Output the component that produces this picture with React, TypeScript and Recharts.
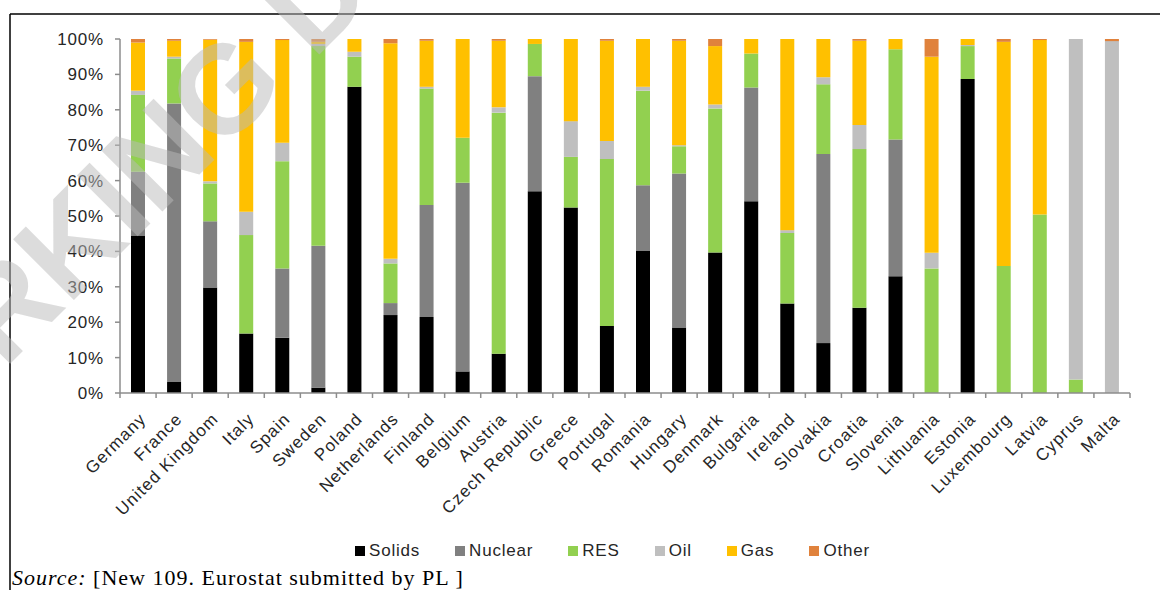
import { BarChart, Bar, XAxis, YAxis, Legend } from 'recharts';

const countries = [
  'Germany', 'France', 'United Kingdom', 'Italy', 'Spain', 'Sweden', 'Poland',
  'Netherlands', 'Finland', 'Belgium', 'Austria', 'Czech Republic', 'Greece',
  'Portugal', 'Romania', 'Hungary', 'Denmark', 'Bulgaria', 'Ireland', 'Slovakia',
  'Croatia', 'Slovenia', 'Lithuania', 'Estonia', 'Luxembourg', 'Latvia', 'Cyprus', 'Malta',
];

const solids = [44.5, 3.1, 29.8, 16.8, 15.6, 1.5, 86.5, 22.0, 21.5, 6.1, 11.1, 57.0, 52.4, 18.9, 40.1, 18.5, 39.7, 54.2, 25.3, 14.1, 24.1, 33.0, 0, 88.7, 0, 0, 0, 0];
const nuclear = [18.0, 78.7, 18.7, 0, 19.6, 40.1, 0, 3.4, 31.6, 53.3, 0, 32.5, 0, 0, 18.6, 43.5, 0, 32.1, 0, 53.4, 0, 38.6, 0, 0, 0, 0, 0, 0];
const res = [21.7, 12.7, 10.7, 27.8, 30.3, 56.4, 8.5, 11.2, 32.9, 12.7, 68.1, 9.1, 14.3, 47.2, 26.7, 7.7, 40.7, 9.6, 19.9, 19.7, 44.8, 25.5, 35.2, 9.3, 35.9, 50.4, 3.8, 0];
const oil = [1.2, 0.5, 0.6, 6.6, 5.2, 0.6, 1.4, 1.3, 0.5, 0, 1.5, 0, 10.1, 5.1, 1.1, 0.3, 1.1, 0, 0.8, 2.0, 6.8, 0, 4.4, 0.3, 0, 0, 96.2, 99.4];
const gas = [13.6, 4.5, 40.0, 48.0, 29.0, 0.6, 3.6, 60.9, 13.0, 27.9, 18.8, 1.4, 23.2, 28.3, 13.5, 29.5, 16.5, 4.1, 54.0, 10.8, 23.8, 2.9, 55.4, 1.7, 63.3, 49.3, 0, 0];
const other = [1.0, 0.5, 0.2, 0.8, 0.3, 0.8, 0, 1.2, 0.5, 0, 0.5, 0, 0, 0.5, 0, 0.5, 2.0, 0, 0, 0, 0.5, 0, 5.0, 0, 0.8, 0.3, 0, 0.6];

const yTicks = [0, 10, 20, 30, 40, 50, 60, 70, 80, 90, 100];

const series = [
  { key: 'solids', name: 'Solids', color: '#000000' },
  { key: 'nuclear', name: 'Nuclear', color: '#808080' },
  { key: 'res', name: 'RES', color: '#92D050' },
  { key: 'oil', name: 'Oil', color: '#BFBFBF' },
  { key: 'gas', name: 'Gas', color: '#FFC000' },
  { key: 'other', name: 'Other', color: '#E0823C' },
];

const data = countries.map((country, i) => ({
  country,
  solids: solids[i],
  nuclear: nuclear[i],
  res: res[i],
  oil: oil[i],
  gas: gas[i],
  other: other[i],
}));

const W = 1160;
const H = 590;
const PLOT_LEFT = 120;
const PLOT_RIGHT = 1130;
const STEP = (PLOT_RIGHT - PLOT_LEFT) / countries.length;
const SANS = '"Liberation Sans", Arial, sans-serif';
const SERIF = '"Liberation Serif", "Times New Roman", serif';
const AXIS = '#8c8c8c';
const TEXT = '#262626';

const CountryTick = (props: any) => {
  const { x, y, payload, index, visibleTicksCount } = props;
  const half = STEP / 2;
  return (
    <g>
      <line x1={x - half} x2={x - half} y1={y} y2={y + 5} stroke={AXIS} strokeWidth={1.5} />
      {index === visibleTicksCount - 1 && (
        <line x1={x + half} x2={x + half} y1={y} y2={y + 5} stroke={AXIS} strokeWidth={1.5} />
      )}
      <text
        transform={`translate(${x + 9},${y + 27}) rotate(-45)`}
        textAnchor="end"
        fontSize={17}
        letterSpacing={1.1}
        fill={TEXT}
        fontFamily={SANS}
      >
        {payload.value}
      </text>
    </g>
  );
};

// legend drawn in series order (recharts sorts its payload by name)
const LegendContent = () => (
  <div
    style={{
      display: 'flex',
      gap: 35,
      paddingLeft: 355,
      height: 20,
      alignItems: 'center',
      fontFamily: SANS,
      fontSize: 17,
      letterSpacing: 0.8,
      color: TEXT,
    }}
  >
    {series.map((s) => (
      <div key={s.key} style={{ display: 'flex', alignItems: 'center' }}>
        <span style={{ width: 10, height: 10, background: s.color, marginRight: 4, display: 'inline-block' }} />
        {s.name}
      </div>
    ))}
  </div>
);

export default function App() {
  return (
    <div style={{ position: 'absolute', left: 0, top: 0, width: W, height: H, background: '#fff', overflow: 'hidden' }}>
      <BarChart
        width={W}
        height={H}
        data={data}
        margin={{ top: 39, right: W - PLOT_RIGHT, left: 0, bottom: 29 }}
        barSize={14}
      >
        <XAxis
          dataKey="country"
          interval={0}
          tickLine={false}
          tickSize={0}
          tickMargin={0}
          height={148}
          axisLine={{ stroke: AXIS, strokeWidth: 1.5 }}
          tick={<CountryTick />}
        />
        <YAxis
          width={PLOT_LEFT}
          domain={[0, 100]}
          ticks={yTicks}
          interval={0}
          tickFormatter={(v: number) => `${v}%`}
          tickSize={5}
          tickMargin={11}
          axisLine={{ stroke: AXIS, strokeWidth: 1.5 }}
          tickLine={{ stroke: AXIS, strokeWidth: 1.5 }}
          tick={{ fontSize: 17, fill: TEXT, fontFamily: SANS, letterSpacing: 0.8 }}
        />
        <Legend
          verticalAlign="bottom"
          content={<LegendContent />}
          wrapperStyle={{ left: 0, width: W }}
        />
        {series.map((s) => (
          <Bar
            key={s.key}
            dataKey={s.key}
            name={s.name}
            stackId="mix"
            fill={s.color}
            legendType="square"
            isAnimationActive={false}
          />
        ))}
      </BarChart>
      <svg
        width={W}
        height={H}
        style={{ position: 'absolute', left: 0, top: 0, pointerEvents: 'none' }}
      >
        <line x1={10} x2={W} y1={14} y2={14} stroke="#000" strokeWidth={1.5} />
        <line x1={10} x2={10} y1={14} y2={H} stroke="#000" strokeWidth={1.5} />
        <text x={12} y={585} fontFamily={SERIF} fontSize={22} letterSpacing={1} fill="#000">
          <tspan fontStyle="italic">Source:</tspan> [New 109. Eurostat submitted by PL ]
        </text>
        <text
          x={-148}
          y={522}
          transform="rotate(-45 -148 522)"
          fontFamily={SANS}
          fontWeight="bold"
          fontSize={125}
          fill="rgba(185,185,185,0.5)"
        >
          WORKING DOCUMENT
        </text>
      </svg>
    </div>
  );
}
